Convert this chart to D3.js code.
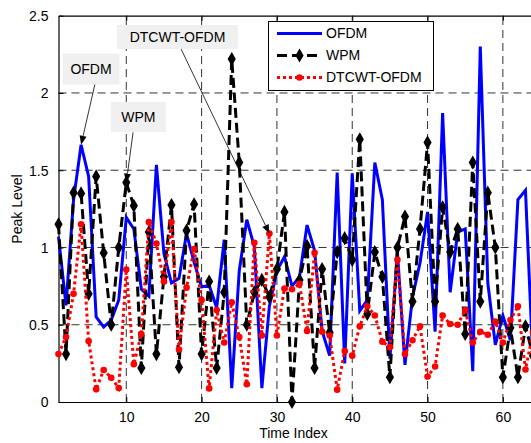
<!DOCTYPE html>
<html>
<head>
<meta charset="utf-8">
<script src="https://cdn.jsdelivr.net/npm/d3@7"></script>
<style>
  body { margin: 0; background: #fff; }
  svg { display: block; font-family: "Liberation Sans", Arial, sans-serif; }
</style>
</head>
<body>
<svg id="chart" width="531" height="443"></svg>
<script>
// peak level per time index (1..64)
var ofdm = [1.07,0.625,1.31,1.665,1.46,0.55,0.485,0.53,0.66,1.195,1.12,0.73,0.685,1.535,0.96,0.77,
  0.80,1.09,0.905,0.745,0.755,0.61,1.05,0.09,0.85,1.18,1.005,0.09,0.62,0.85,0.94,0.75,
  0.81,1.145,0.98,0.46,0.30,1.485,0.25,1.48,0.59,0.66,1.55,1.31,0.28,0.97,0.24,0.68,
  0.90,1.23,0.455,1.87,0.71,1.10,1.12,0.20,2.30,0.77,0.37,0.56,0.40,1.31,1.37,0.25];
var wpm = [1.15,0.31,1.355,1.35,0.70,1.46,0.965,0.50,1.0,1.42,1.27,0.22,1.10,0.31,0.81,1.275,
  0.225,1.11,1.28,0.31,0.78,0.22,0.71,2.22,1.55,0.50,0.71,0.79,0.68,0.86,1.23,0.0,
  0.79,1.01,0.22,0.86,0.45,0.97,1.06,0.92,1.70,0.57,0.97,0.81,0.16,1.0,1.20,0.65,
  1.12,1.68,0.65,1.26,0.97,1.12,0.44,1.55,0.65,1.355,1.0,0.16,0.48,0.16,0.49,0.30];
var dtcwt = [0.31,0.42,0.70,1.15,0.395,0.082,0.207,0.157,0.09,0.857,0.245,0.44,1.165,1.025,0.78,1.165,
  0.34,0.74,0.99,0.66,0.088,0.595,0.385,0.645,0.42,0.115,1.03,0.43,1.09,0.43,0.735,0.73,
  0.765,0.46,0.965,0.455,0.43,0.08,0.33,0.30,0.49,0.62,0.56,0.39,0.355,0.92,0.31,0.40,
  0.49,0.165,0.23,0.56,0.505,0.50,0.595,0.385,0.455,0.435,0.52,0.385,0.53,0.62,0.21,0.45];

var xTicks = [10, 20, 30, 40, 50, 60];
var yTicks = [0, 0.5, 1, 1.5, 2, 2.5];
var seriesNames = ["OFDM", "WPM", "DTCWT-OFDM"];

// text callouts: label centre, arrow start (data units), arrow target series/index
var callouts = [
  { text: "OFDM", cx: 5.32, cy: 2.155, w: 57, h: 31, ax: 5.85, ay: 2.06, series: 0, idx: 3 },
  { text: "WPM", cx: 11.6, cy: 1.845, w: 55, h: 30, ax: 10.9, ay: 1.745, series: 1, idx: 9 },
  { text: "DTCWT-OFDM", cx: 16.8, cy: 2.362, w: 121, h: 24, ax: 17.27, ay: 2.285, series: 2, idx: 28 }
];

var svg = d3.select("#chart");
var x = d3.scaleLinear().domain([1, 64]).range([58.5, 533]);
var y = d3.scaleLinear().domain([0, 2.5]).range([402, 15.7]);
var fs = 14;

// grid
var grid = svg.append("g");
grid.selectAll("line.gx").data(xTicks).enter().append("line")
  .attr("x1", d => x(d)).attr("x2", d => x(d))
  .attr("y1", y(0)).attr("y2", y(2.5))
  .attr("stroke", "#333").attr("stroke-width", 1).attr("stroke-dasharray", "8,5");
grid.selectAll("line.gy").data(yTicks.slice(1, -1)).enter().append("line")
  .attr("x1", x(1)).attr("x2", x(64))
  .attr("y1", d => y(d)).attr("y2", d => y(d))
  .attr("stroke", "#333").attr("stroke-width", 1).attr("stroke-dasharray", "8,5");

// axes
var xAxis = svg.append("g").attr("transform", "translate(0," + y(0) + ")")
  .call(d3.axisBottom(x).tickValues(xTicks).tickSizeInner(-5).tickSizeOuter(0).tickPadding(10));
var yAxis = svg.append("g").attr("transform", "translate(" + x(1) + ",0)")
  .call(d3.axisLeft(y).tickValues(yTicks).tickFormat(d3.format("~g"))
    .tickSizeInner(-5).tickSizeOuter(0).tickPadding(10));
var xTop = svg.append("g").attr("transform", "translate(0," + y(2.5) + ")")
  .call(d3.axisTop(x).tickValues(xTicks).tickSizeInner(-5).tickSizeOuter(0).tickFormat(""));
[xAxis, yAxis, xTop].forEach(function(a) {
  a.select(".domain").attr("stroke", "#000").attr("stroke-width", 1.2);
  a.selectAll(".tick line").attr("stroke", "#000");
  a.selectAll("text").attr("font-size", fs).attr("fill", "#000")
    .attr("font-family", "Liberation Sans, Arial, sans-serif");
});
yAxis.selectAll("text").attr("dy", "0.35em");

// lines
var line = d3.line().x((d, i) => x(i + 1)).y(d => y(d));
svg.append("path").datum(ofdm).attr("d", line)
  .attr("fill", "none").attr("stroke", "#0000ff").attr("stroke-width", 3)
  .attr("stroke-linejoin", "miter");
svg.append("path").datum(wpm).attr("d", line)
  .attr("fill", "none").attr("stroke", "#000").attr("stroke-width", 3)
  .attr("stroke-dasharray", "10,5");
svg.append("g").selectAll("path").data(wpm).enter().append("path")
  .attr("d", d3.symbol().type(d3.symbolDiamond).size(36))
  .attr("transform", (d, i) => "translate(" + x(i + 1) + "," + y(d) + ")")
  .attr("fill", "#000").attr("stroke", "#000").attr("stroke-width", 1.5);
svg.append("path").datum(dtcwt).attr("d", line)
  .attr("fill", "none").attr("stroke", "#ff0000").attr("stroke-width", 3)
  .attr("stroke-dasharray", "3,3");
svg.append("g").selectAll("circle").data(dtcwt).enter().append("circle")
  .attr("cx", (d, i) => x(i + 1)).attr("cy", d => y(d)).attr("r", 3.3)
  .attr("fill", "#ff0000");

// axis labels
svg.append("text").attr("x", 293.5).attr("y", 438).attr("text-anchor", "middle")
  .attr("font-size", fs).text("Time Index");
svg.append("text").attr("transform", "translate(22,209) rotate(-90)")
  .attr("text-anchor", "middle").attr("font-size", fs).text("Peak Level");

// legend
var colors = ["#0000ff", "#000", "#ff0000"];
var dashes = [null, "10,5", "3,3"];
var leg = svg.append("g");
leg.append("rect").attr("x", 268.5).attr("y", 21.5).attr("width", 165).attr("height", 69)
  .attr("fill", "#fff").attr("stroke", "#000").attr("stroke-width", 1);
seriesNames.forEach(function(name, k) {
  var ly = 33.5 + k * 22;
  leg.append("line").attr("x1", 277).attr("x2", 322).attr("y1", ly).attr("y2", ly)
    .attr("stroke", colors[k]).attr("stroke-width", 3).attr("stroke-dasharray", dashes[k]);
  if (k === 1) {
    leg.append("path").attr("d", d3.symbol().type(d3.symbolDiamond).size(36))
      .attr("transform", "translate(299.5," + ly + ")").attr("fill", "#000")
      .attr("stroke", "#000").attr("stroke-width", 1.5);
  }
  if (k === 2) {
    leg.append("circle").attr("cx", 299.5).attr("cy", ly).attr("r", 3.3).attr("fill", "#ff0000");
  }
  leg.append("text").attr("x", 326).attr("y", ly).attr("dy", "0.35em")
    .attr("font-size", fs).text(name);
});

// callouts
var allSeries = [ofdm, wpm, dtcwt];
callouts.forEach(function(c) {
  var g = svg.append("g");
  var tx = x(c.idx + 1), ty = y(allSeries[c.series][c.idx]);
  var sx = x(c.ax), sy = y(c.ay);
  var ang = Math.atan2(ty - sy, tx - sx);
  var hl = 9, hw = 3.5;
  var bx = tx - hl * Math.cos(ang), by = ty - hl * Math.sin(ang);
  g.append("line").attr("x1", sx).attr("y1", sy).attr("x2", bx).attr("y2", by)
    .attr("stroke", "#000").attr("stroke-width", 0.8);
  var pts = [[tx, ty],
    [bx + hw * Math.sin(ang), by - hw * Math.cos(ang)],
    [bx - hw * Math.sin(ang), by + hw * Math.cos(ang)]];
  g.append("polygon").attr("points", pts.map(p => p.join(",")).join(" ")).attr("fill", "#000");
  g.append("rect").attr("x", x(c.cx) - c.w / 2).attr("y", y(c.cy) - c.h / 2)
    .attr("width", c.w).attr("height", c.h).attr("fill", "#f0f0f0");
  g.append("text").attr("x", x(c.cx)).attr("y", y(c.cy)).attr("dy", "0.35em")
    .attr("text-anchor", "middle").attr("font-size", fs).text(c.text);
});
</script>
</body>
</html>
